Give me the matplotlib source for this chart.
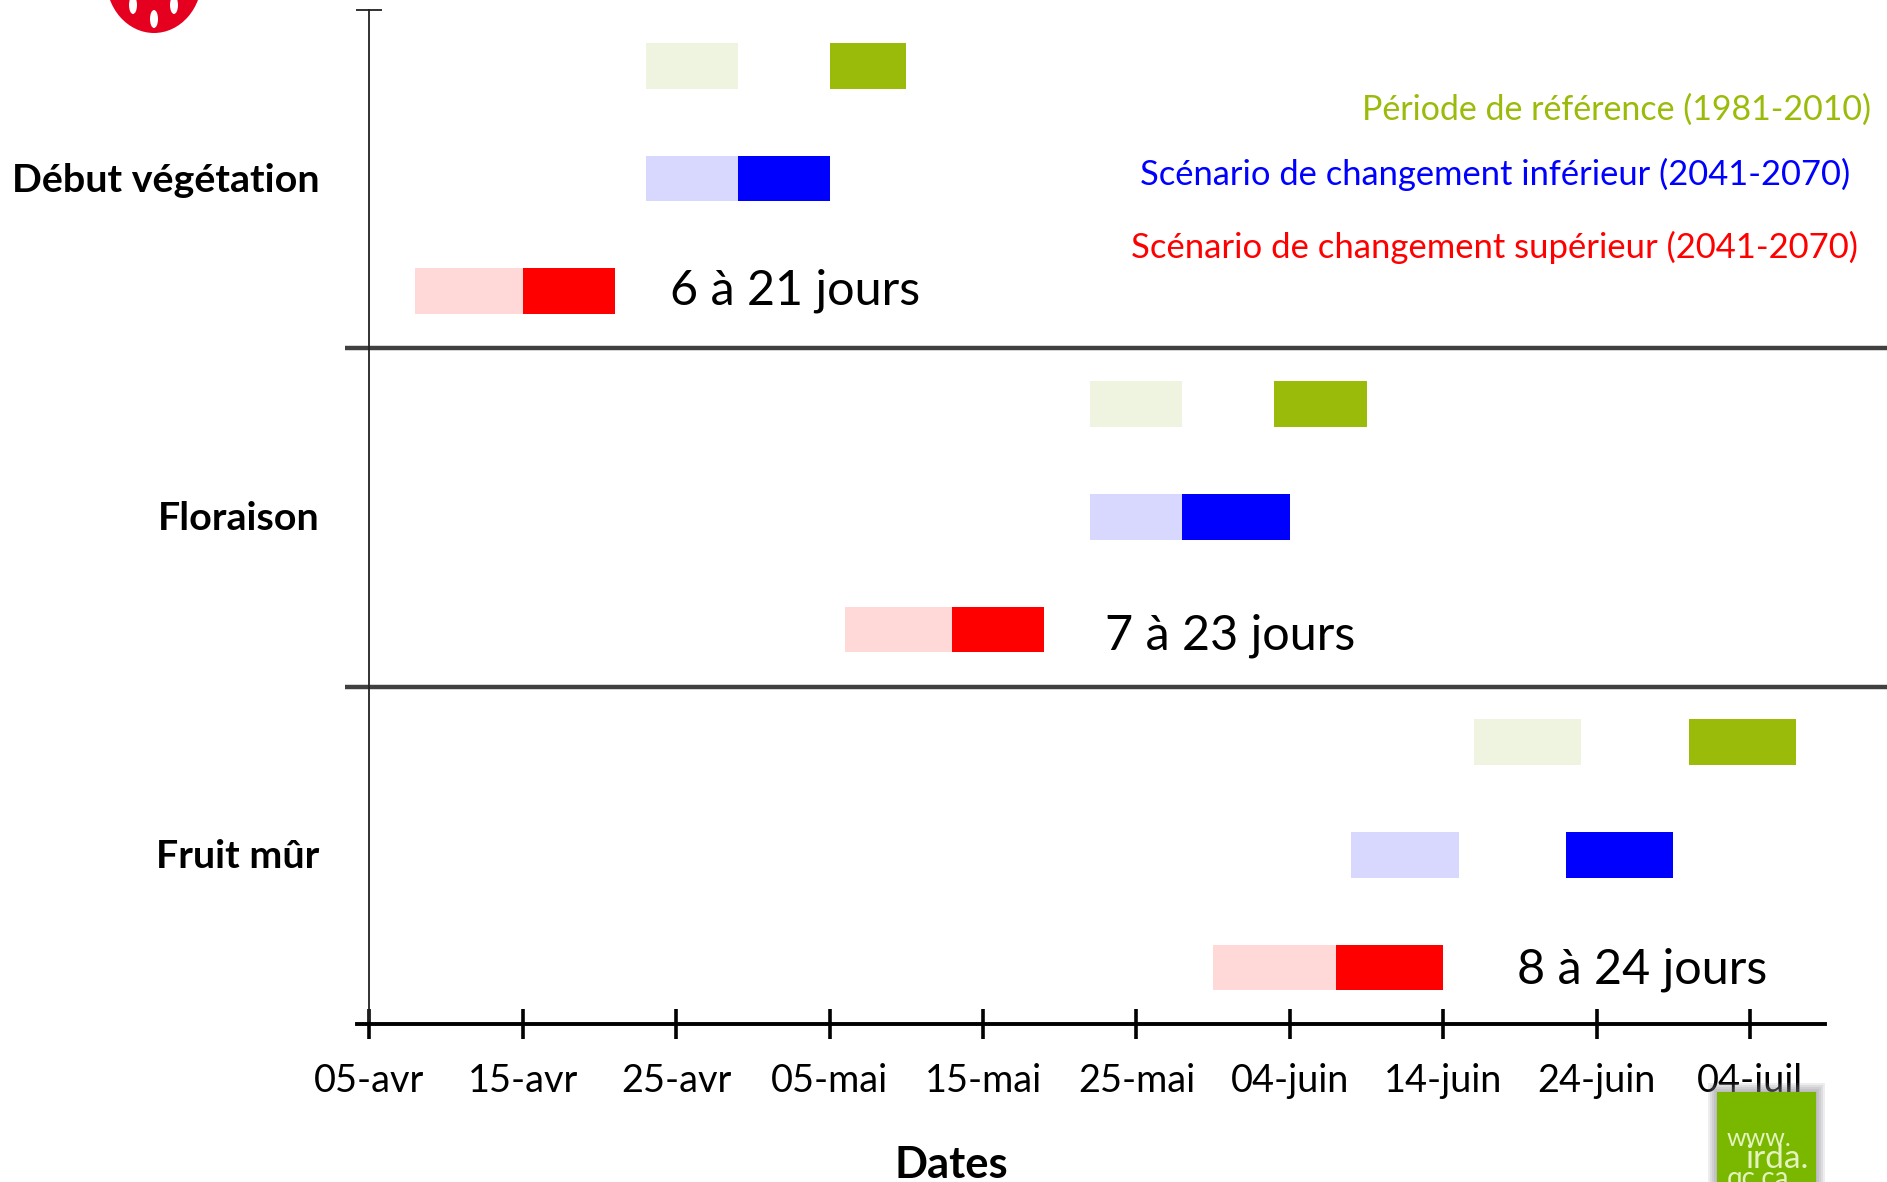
import matplotlib.pyplot as plt
from matplotlib.patches import Ellipse, Rectangle

W, H = 1887, 1182
plt.rcParams['font.family'] = ['Lato', 'DejaVu Sans']

stades = ['Début végétation', 'Floraison', 'Fruit mûr']
dates = ['05-avr', '15-avr', '25-avr', '05-mai', '15-mai', '25-mai',
         '04-juin', '14-juin', '24-juin', '04-juil']
ecarts = ['6 à 21 jours', '7 à 23 jours', '8 à 24 jours']

# jours depuis le 5 avril : debut et fin de chaque periode, par stade
ref_clair = [(18, 24), (47, 53), (72, 79)]
ref_fonce = [(30, 35), (59, 65), (86, 93)]
inf_clair = [(18, 24), (47, 53), (64, 71)]
inf_fonce = [(24, 30), (53, 60), (78, 85)]
sup_clair = [(3, 10), (31, 38), (55, 63)]
sup_fonce = [(10, 16), (38, 44), (63, 70)]

legende = ['Période de référence (1981-2010)',
           'Scénario de changement inférieur (2041-2070)',
           'Scénario de changement supérieur (2041-2070)']


def fx(px):
    return px / W


def fy(px):
    return 1 - px / H


fig = plt.figure(figsize=(W / 100, H / 100), dpi=100)
ax = fig.add_axes([fx(369.4), fy(1024), 1 - fx(369.4), fy(9.5) - fy(1024)])
ax.set_xlim(0, 98.93)
ax.set_ylim(3, 0)

series = [(ref_clair, 1 / 6, '#EEF4DF'), (ref_fonce, 1 / 6, '#9BBB0B'),
          (inf_clair, 1 / 2, '#D8D8FF'), (inf_fonce, 1 / 2, '#0000FF'),
          (sup_clair, 5 / 6, '#FFD8D8'), (sup_fonce, 5 / 6, '#FF0000')]
for periodes, dy, coul in series:
    for i, (deb, fin) in enumerate(periodes):
        ax.barh(i + dy, fin - deb, left=deb, height=0.135, color=coul, linewidth=0)

# separateurs entre les stades
ax.hlines([1, 2.004], -1.57, 98.93, color='#404040', linewidth=3.2, clip_on=False)

for s in ['top', 'right']:
    ax.spines[s].set_visible(False)
ax.spines['left'].set_linewidth(1.3)
ax.spines['left'].set_color('#222222')
ax.spines['bottom'].set_linewidth(2.8)
ax.spines['bottom'].set_bounds(-0.8, 94.9)

ax.set_xticks(range(0, 100, 10)[:10], dates)
ax.tick_params(axis='x', direction='inout', length=22, width=2.6, pad=17, labelsize=27.3)
ax.set_yticks([0, 1, 2, 3], [])
ax.tick_params(axis='y', direction='inout', length=19, width=1.3, color='#222222')
ax.set_yticks([0.497, 1.497, 2.497], stades, minor=True)
ax.tick_params(axis='y', which='minor', length=0, pad=36, labelsize=28.4)
for lab in ax.get_yticklabels(minor=True):
    lab.set_fontweight('bold')
    lab.set_verticalalignment('center_baseline')

fig.text(fx(951), fy(1165), 'Dates', fontsize=31.3, fontweight='bold', ha='center', va='center')

ecart_pos = [(19.6, 0.832), (47.95, 1.853), (74.78, 2.84)]
for txt, (x, y) in zip(ecarts, ecart_pos):
    ax.text(x, y, txt, fontsize=34.9, va='center', ha='left')

leg_pos = [(1871, 110), (1850, 174), (1858, 247)]
leg_coul = ['#9BBB0B', '#0000FF', '#FF0000']
leg_taille = [24.5, 24.8, 24.9]
for txt, (x, y), c, fs in zip(legende, leg_pos, leg_coul, leg_taille):
    fig.text(fx(x), fy(y), txt, color=c, fontsize=fs, ha='right', va='center')

# fraise coupee en haut a gauche
fig.add_artist(Ellipse((fx(154), fy(-22)), fx(96), 110 / H, color='#E60020', linewidth=0))
for px, py in [(133, 5), (154, 19), (174, 5)]:
    fig.add_artist(Ellipse((fx(px), fy(py)), fx(8), 18 / H, color='white', linewidth=0))

# logo irda, ombre floue autour
for marge in [9, 7, 5, 3, 1]:
    fig.add_artist(Rectangle((fx(1717 - marge), 0), fx(99 + 2 * marge), fy(1092 - marge),
                             color='#808088', alpha=0.14, linewidth=0, zorder=5))
fig.add_artist(Rectangle((fx(1717), 0), fx(99), fy(1092), color='#7AB800', linewidth=0, zorder=6))
logo_txt = [('www.', 1727, 1138, 18), ('irda.', 1745, 1159, 24), ('qc.ca', 1727, 1179, 20)]
for t, x, y, fs in logo_txt:
    fig.text(fx(x), fy(y), t, color='#E4F2C0', fontsize=fs, ha='left', va='center', zorder=7)

fig.savefig('out.png', dpi=100)
